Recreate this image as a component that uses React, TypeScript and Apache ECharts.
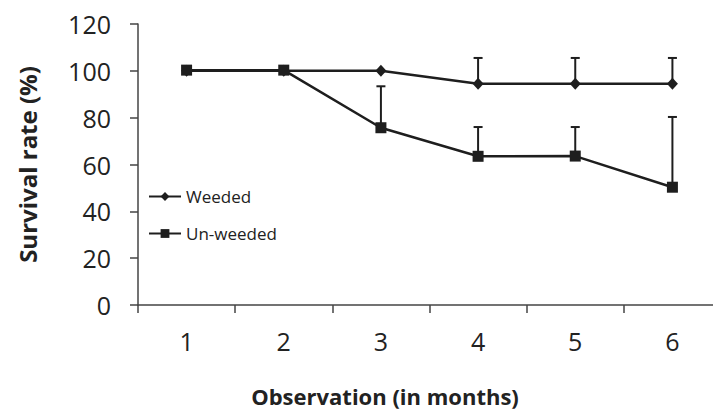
import React, { useEffect, useRef } from "react";
import * as echarts from "echarts";

const categories = ["1", "2", "3", "4", "5", "6"];
const weededValues = [100, 100, 100, 94.5, 94.5, 94.5];
const weededUpper: (number | null)[] = [null, null, null, 105.5, 105.5, 105.5];
const unweededValues = [100.3, 100.3, 75.7, 63.5, 63.6, 50.3];
const unweededUpper: (number | null)[] = [null, null, 93.4, 76, 76, 80.3];
const yTicks = { min: 0, max: 120, interval: 20 };

const FONT = "Open Sans";
const INK = "#1e1e1e";

function errData(vals: number[], upper: (number | null)[]) {
  const out: number[][] = [];
  vals.forEach((v, i) => {
    const u = upper[i];
    if (u !== null && u !== undefined) out.push([i, v, u]);
  });
  return out;
}

function renderErr(params: any, api: any) {
  const x = api.value(0);
  const lo = api.coord([x, api.value(1)]);
  const hi = api.coord([x, api.value(2)]);
  const style = { stroke: INK, lineWidth: 2 };
  return {
    type: "group",
    children: [
      { type: "line", shape: { x1: lo[0], y1: lo[1], x2: hi[0], y2: hi[1] }, style },
      { type: "line", shape: { x1: hi[0] - 4.5, y1: hi[1], x2: hi[0] + 4.5, y2: hi[1] }, style },
    ],
  };
}

export default function App() {
  const ref = useRef<HTMLDivElement>(null);
  useEffect(() => {
    if (!ref.current) return;
    const chart = echarts.init(ref.current, null, { renderer: "svg" });
    chart.setOption({
      animation: false,
      backgroundColor: "#ffffff",
      grid: {
        left: 138,
        right: -8,
        top: 24,
        bottom: 105,
        containLabel: false,
        outerBoundsMode: "none",
      },
      legend: {
        orient: "vertical",
        left: 143,
        top: 183,
        itemWidth: 32,
        itemHeight: 11,
        itemGap: 20,
        data: ["Weeded", "Un-weeded"],
        textStyle: { fontFamily: FONT, fontSize: 17, color: "#222" },
      },
      xAxis: {
        type: "category",
        data: categories,
        boundaryGap: true,
        name: "Observation (in months)",
        nameLocation: "middle",
        nameGap: 80,
        nameTextStyle: {
          fontFamily: FONT,
          fontSize: 22,
          fontWeight: "bold",
          color: "#222",
          padding: [0, 89, 0, 0],
        },
        axisLine: { lineStyle: { color: "#444", width: 1.5 } },
        axisTick: { show: true, alignWithLabel: false, length: 8, lineStyle: { color: "#444", width: 1.5 } },
        axisLabel: { fontFamily: FONT, fontSize: 25, color: "#222", margin: 23 },
        splitLine: { show: false },
      },
      yAxis: {
        type: "value",
        min: yTicks.min,
        max: yTicks.max,
        interval: yTicks.interval,
        name: "Survival rate (%)",
        nameLocation: "middle",
        nameGap: 99,
        nameTextStyle: { fontFamily: FONT, fontSize: 24, fontWeight: "bold", color: "#222" },
        axisLine: { show: true, lineStyle: { color: "#444", width: 1.5 } },
        axisTick: { show: true, length: 8, lineStyle: { color: "#444", width: 1.5 } },
        axisLabel: { fontFamily: FONT, fontSize: 25, color: "#222", margin: 27 },
        splitLine: { show: false },
      },
      series: [
        {
          name: "Weeded-err",
          type: "custom",
          renderItem: renderErr,
          data: errData(weededValues, weededUpper),
          z: 1,
          silent: true,
        },
        {
          name: "Unweeded-err",
          type: "custom",
          renderItem: renderErr,
          data: errData(unweededValues, unweededUpper),
          z: 1,
          silent: true,
        },
        {
          name: "Weeded",
          type: "line",
          data: weededValues,
          symbol: "diamond",
          symbolSize: [11, 12],
          showAllSymbol: true,
          lineStyle: { color: INK, width: 2.5 },
          itemStyle: { color: INK },
          z: 3,
        },
        {
          name: "Un-weeded",
          type: "line",
          data: unweededValues,
          symbol: "rect",
          symbolSize: 11,
          showAllSymbol: true,
          lineStyle: { color: INK, width: 2.5 },
          itemStyle: { color: INK },
          z: 4,
        },
      ],
    });
    return () => chart.dispose();
  }, []);
  return (
    <div
      ref={ref}
      style={{ position: "fixed", left: 0, top: 0, width: 713, height: 410 }}
    />
  );
}
